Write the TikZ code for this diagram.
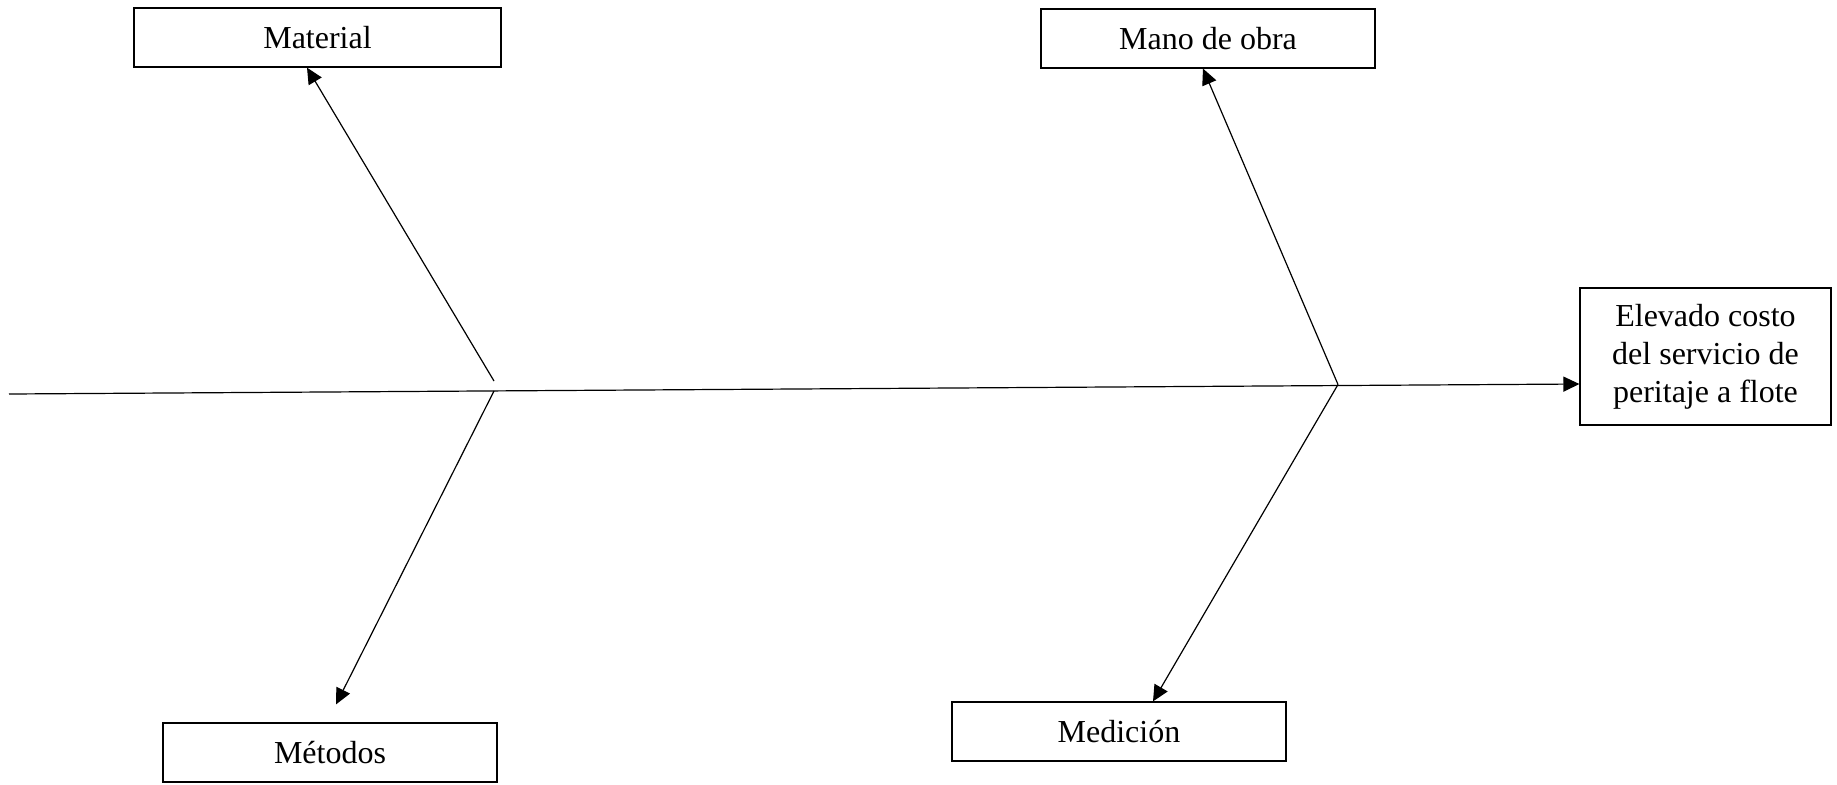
\documentclass[tikz,border=0pt]{standalone}
\usepackage{fontspec}
\setmainfont{Liberation Serif}
\usetikzlibrary{arrows.meta}
\begin{document}
\begin{tikzpicture}[x=0.5pt,y=-0.5pt,
  cbox/.style={draw, line width=0.6pt, inner sep=0pt, font=\fontsize{16}{19}\selectfont},
  arr/.style={line width=0.6pt, -{Triangle[length=8pt,width=7.5pt]}},
  bone/.style={line width=0.6pt}]
\useasboundingbox (0,0) rectangle (1837,784);
\node[cbox, minimum width=183.5pt, minimum height=29.5pt] (mat) at (317.5,37.5) {Material};
\node[cbox, minimum width=167pt, minimum height=29.5pt] (mano) at (1208,38.5) {Mano de obra};
\node[cbox, minimum width=125.5pt, minimum height=68.5pt, align=center] (el) at (1705.5,356.5) {Elevado costo\\del servicio de\\peritaje a flote};
\node[cbox, minimum width=167pt, minimum height=29.5pt] (met) at (330,752.5) {Métodos};
\node[cbox, minimum width=167pt, minimum height=29.5pt] (med) at (1119,731.5) {Medición};
\coordinate (tail) at (9,394);
\coordinate (j1u) at (494,381);
\coordinate (j1d) at (494,391);
\coordinate (j2) at (1338,384.5);
\draw[arr] (tail) -- ([yshift=-13.75pt]el.west);
\draw[arr] (j1u) -- ([xshift=-5.25pt]mat.south);
\draw[arr] (j1d) -- ([xshift=3pt,yshift=9pt]met.north);
\draw[arr] (j2) -- ([xshift=-2.5pt]mano.south);
\draw[arr] (j2) -- ([xshift=17pt]med.north);
\end{tikzpicture}
\end{document}
